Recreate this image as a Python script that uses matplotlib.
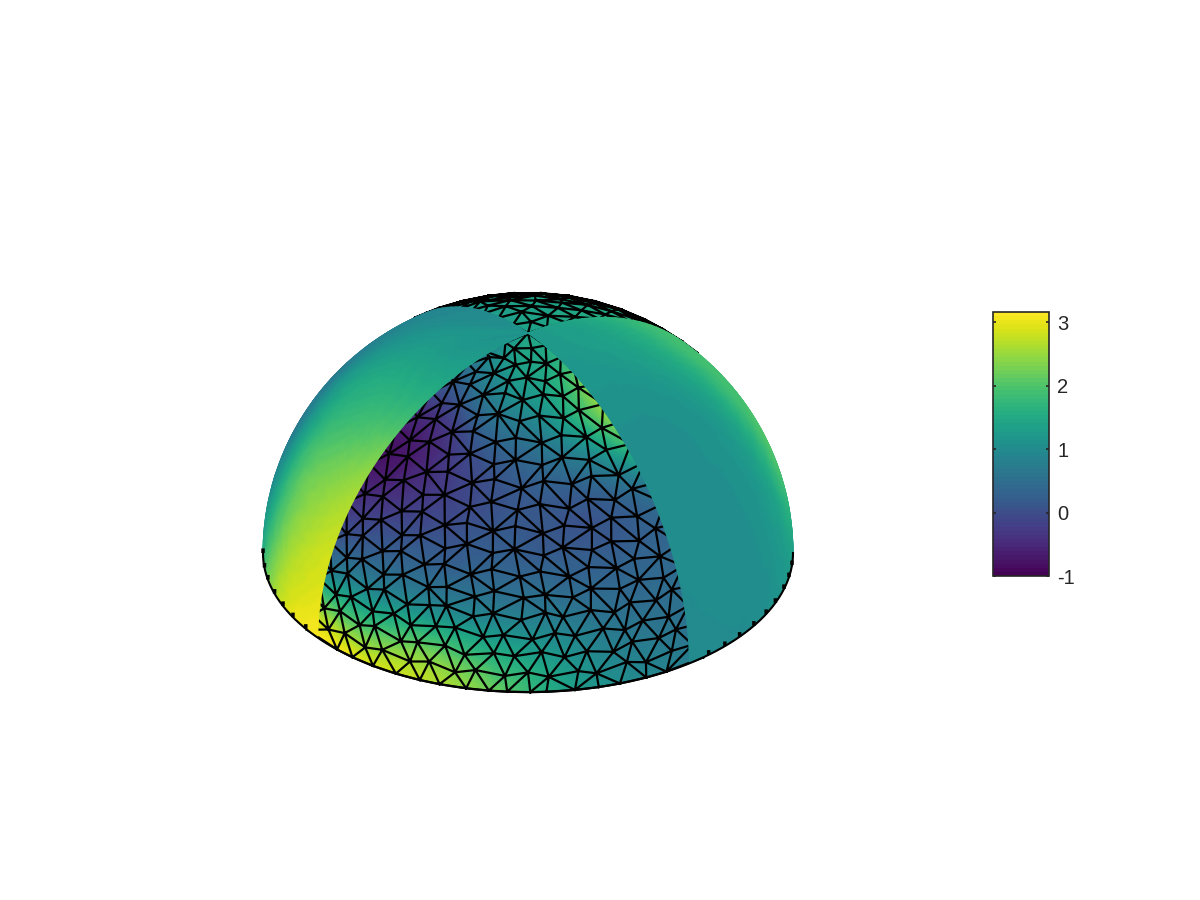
import numpy as np
import matplotlib
matplotlib.use('Agg')
import matplotlib.pyplot as plt
import matplotlib.tri as mtri
from matplotlib.cm import ScalarMappable
from matplotlib.colors import Normalize

plt.rcParams['font.family'] = ['Liberation Sans', 'DejaVu Sans']
plt.rcParams['axes.unicode_minus'] = False

# colour values, rows = latitude, columns = angle inside the patch
front_angle = [0, 15, 30, 45, 60, 75, 90]
front_rows = [0, 8, 16, 30, 45, 60, 75, 90]
front_vals = [
    [3.10, 2.95, 2.70, 2.20, 1.40, 1.00, 0.80],
    [2.40, 2.10, 2.20, 1.70, 1.20, 0.80, 0.60],
    [0.90, 1.10, 1.20, 1.00, 0.80, 0.55, 0.50],
    [-0.20, 0.10, 0.20, 0.30, 0.25, 0.25, 0.35],
    [-0.80, -0.50, -0.15, 0.10, 0.20, 0.35, 0.95],
    [-0.30, -0.20, 0.25, 0.60, 0.90, 1.50, 2.40],
    [0.60, 0.90, 1.10, 1.30, 1.40, 1.60, 1.90],
    [1.40, 1.40, 1.40, 1.40, 1.40, 1.40, 1.40],
]

left_angle = [0, 15, 30, 45, 60, 75, 90]
left_rows = [0, 15, 30, 45, 60, 75, 90]
left_vals = [
    [3.10, 2.85, 2.00, 1.20, 1.00, 1.00, 1.00],
    [2.90, 2.55, 1.70, 1.00, 0.80, 0.80, 0.80],
    [2.70, 2.35, 1.80, 1.00, 0.70, 0.70, 0.70],
    [2.30, 2.00, 1.70, 1.30, 0.90, 0.80, 0.80],
    [1.70, 1.60, 1.50, 1.30, 1.10, 0.95, 0.90],
    [1.30, 1.25, 1.20, 1.20, 1.10, 1.00, 1.00],
    [1.15, 1.15, 1.15, 1.15, 1.15, 1.15, 1.15],
]

right_angle = [0, 15, 30, 45, 60, 75, 90]
right_rows = [0, 15, 30, 45, 60, 75, 90]
right_vals = [
    [1.00, 1.00, 1.10, 1.25, 1.30, 1.30, 1.30],
    [1.00, 1.05, 1.10, 1.45, 1.90, 1.90, 1.90],
    [1.05, 1.05, 1.10, 1.40, 1.90, 1.90, 1.90],
    [1.05, 1.05, 1.10, 1.30, 1.70, 1.90, 1.90],
    [1.10, 1.10, 1.15, 1.30, 1.50, 1.70, 1.80],
    [1.20, 1.20, 1.25, 1.30, 1.35, 1.40, 1.50],
    [1.25, 1.25, 1.25, 1.25, 1.25, 1.25, 1.25],
]

back_angle = [0, 30, 60, 90]
back_rows = [40, 60, 75, 90]
back_vals = [
    [1.50, 1.45, 1.35, 1.25],
    [1.55, 1.45, 1.35, 1.25],
    [1.50, 1.40, 1.35, 1.30],
    [1.35, 1.35, 1.35, 1.35],
]

# mesh nodes (angle inside patch, latitude) estimated row by row,
# the outer ones run under the smooth patches
front_nodes = [
    (-4, 0), (6.4, 0), (11, 0), (16.7, 0), (22.6, 0), (28.4, 0), (33, 0), (39, 0), (44, 0), (48, 0), (53, 0), (56.5, 0), (62.7, 0), (68, 0), (72.8, 0), (79, 0), (84, 0), (94, 0),
    (-2, 4.8), (3.5, 3.8), (8.5, 5.1), (14.5, 3.9), (19, 4.9), (26, 4.1), (30.5, 5.2), (36.5, 3.7), (41, 4.9), (47.5, 4), (52.5, 5), (57, 3.8), (63.5, 4.7), (67.5, 3.6), (74.5, 5.1), (79, 3.9), (85.5, 4.8), (91, 4.4),
    (-4, 9.5), (1.5, 8.2), (6.5, 9.7), (12.5, 8.7), (16.5, 9.9), (23.5, 8.4), (27.5, 9.2), (34, 9.8), (38.5, 8.3), (45, 9.4), (49.5, 8.9), (55.5, 9.9), (60.5, 8.4), (65.5, 9.3), (71.5, 8.2), (76, 9.7), (82.5, 8.9), (87, 9.6), (93, 8.8),
    (-2, 14), (4.5, 12.9), (9, 14.2), (15.5, 13.1), (21, 14.3), (25.5, 12.8), (31.5, 13.9), (36, 14.4), (42.5, 13), (47, 13.8), (53.5, 12.9), (58.5, 14.2), (63, 13.2), (69.5, 14.1), (74.5, 12.8), (79, 14), (85.5, 13.1), (91, 13.9),
    (-4, 18.5), (1.5, 17.4), (6.5, 18.8), (13, 17.6), (17.5, 18.9), (24, 17.3), (29.5, 18.4), (33.5, 19), (40, 17.5), (44.5, 18.6), (51, 17.4), (56.5, 19), (60.5, 17.8), (67, 18.7), (72.5, 17.3), (76.5, 18.8), (83, 17.7), (87.5, 18.9), (93, 18),
    (-2, 23), (5, 22), (9.5, 23.4), (16.5, 22.1), (21.5, 23.5), (28.5, 22.3), (33, 23.2), (40, 22), (44.5, 23.6), (51.5, 22.4), (56.5, 23), (63, 22), (67.5, 23.5), (74.5, 22.3), (79.5, 23.3), (86, 22.1), (92, 23),
    (-4, 28), (2.5, 26.7), (7.5, 28.2), (14.5, 26.9), (19.5, 28.4), (26.5, 27), (31.5, 28.1), (38.5, 26.8), (43.5, 28.4), (50.5, 27.1), (55.5, 28.2), (62.5, 26.7), (67.5, 28.3), (74.5, 27), (79.5, 28.1), (86.5, 26.9), (93, 28),
    (-2, 32.8), (5.5, 31.6), (11, 33.2), (18.5, 31.8), (23.5, 33), (31, 31.5), (36.5, 33.3), (43.5, 32), (49, 33.1), (56.5, 31.7), (61.5, 33.2), (69, 31.9), (74.5, 33), (82, 31.6), (87.5, 33.1), (93, 32.5),
    (-4, 37.5), (2.5, 36.5), (8.5, 38), (16, 36.7), (22, 38.1), (29.5, 36.5), (35.5, 37.9), (43, 36.8), (49, 38.2), (56.5, 36.6), (62.5, 38), (70, 36.7), (76, 38.1), (83.5, 36.9), (93, 37.5),
    (-2, 42.6), (6.5, 41.5), (12.5, 43.2), (20.5, 41.7), (27, 43), (35.5, 41.5), (41.5, 43.2), (49.5, 41.8), (56, 43.1), (64.5, 41.6), (70.5, 43.2), (78.5, 41.7), (85, 43), (92, 42.5),
    (-4, 47.5), (2.5, 46.8), (9.5, 48.3), (18.5, 46.7), (25.5, 48.2), (34.5, 46.9), (41.5, 48.4), (50.5, 46.7), (57.5, 48.3), (66.5, 47), (73.5, 48.1), (82.5, 46.8), (93, 47.5),
    (-2, 52.5), (6.5, 51.7), (14, 53.3), (23.5, 52), (31, 53.4), (40.5, 51.8), (48, 53.2), (57.5, 52), (65, 53.4), (74.5, 51.8), (82, 53.1), (92, 52.5),
    (-4, 58), (2.5, 57), (10.5, 58.6), (20.5, 57.2), (29, 58.7), (39.5, 57.1), (47.5, 58.5), (58, 57.3), (66.5, 58.7), (76.5, 57.2), (84.5, 58.3), (93, 58),
    (-2, 63.5), (7.5, 62.6), (16.5, 64), (28, 62.8), (37.5, 64.1), (48.5, 62.7), (58, 64.1), (69.5, 62.8), (78.5, 64), (92, 63.5),
    (-4, 69), (2.5, 68.4), (13.5, 69.6), (25.5, 68.2), (38, 69.8), (49.5, 68.3), (62, 69.7), (73.5, 68.4), (85.5, 69.6), (93, 69),
    (-2, 74), (9.5, 73.2), (23.5, 74.6), (37.5, 73.3), (51.5, 74.7), (65.5, 73.3), (79.5, 74.5), (92, 74),
    (-4, 79), (6, 78.3), (22, 79.7), (39, 78.4), (56, 79.6), (73, 78.5), (93, 79),
    (-2, 84), (25, 83.5), (60, 84.2), (92, 84),
    (45, 90),
]

back_nodes = [
    (-4, 40), (3, 40.6), (10, 39.4), (17, 40.8), (24, 39.5), (31, 40.4), (38, 39.3), (45, 40.7), (52, 39.6), (59, 40.5), (66, 39.4), (73, 40.7), (80, 39.5), (87, 40.6), (94, 40),
    (-2, 44.4), (6.5, 45), (14.5, 44), (22.5, 45.3), (30.5, 44), (38.5, 45.1), (46.5, 43.9), (54.5, 45.2), (62.5, 44.1), (70.5, 45), (78.5, 43.9), (86.5, 45.2), (92, 44.4),
    (-4, 48.8), (2, 49.5), (11, 48.3), (20, 49.6), (29, 48.4), (38, 49.4), (47, 48.2), (56, 49.5), (65, 48.4), (74, 49.6), (83, 48.2), (93, 48.8),
    (-2, 53.2), (7, 54), (17, 52.8), (27, 54), (37, 52.7), (47, 53.8), (57, 52.6), (67, 54), (77, 52.8), (87, 53.9), (92, 53.2),
    (-4, 57.6), (3, 58.3), (14, 57.1), (25, 58.4), (36, 57.2), (47, 58.2), (58, 57), (69, 58.3), (80, 57.2), (93, 57.6),
    (-2, 62), (9, 62.8), (21, 61.6), (33, 62.8), (45, 61.5), (57, 62.7), (69, 61.6), (81, 62.8), (92, 62),
    (-4, 66.4), (4, 67.1), (19, 66), (34, 67.2), (49, 66), (64, 67), (79, 66.1), (93, 66.4),
    (-2, 70.8), (13, 71.5), (30, 70.4), (47, 71.6), (64, 70.4), (81, 71.5), (92, 70.8),
    (-4, 75.2), (5, 76), (27, 74.8), (49, 76), (71, 74.8), (93, 75.2),
    (-2, 80), (25, 80.5), (60, 79.6), (92, 80),
    (-3, 85), (45, 85), (93, 85),
    (45, 90),
]

# small bumps on the rim, longitude from the viewer
rim_bumps = [-90, -84, -79, -73, -67.6, -62.5, -57, 43, 48, 53, 58.5, 64, 69, 75, 80, 85]

cbar_ticks = [-1, 0, 1, 2, 3]
cbar_min = -1
cbar_max = 3.16

# patch start longitude and direction, seen from the viewer
FRONT = (-52.5, 1)
LEFT = (-52.5, -1)
RIGHT = (37.5, 1)
BACK = (127.5, 1)

# fixed view of the dome
VIEW_Y = 0.525
VIEW_Z = 0.83


def to_view(lon, lat):
    d = np.radians(lon)
    p = np.radians(lat)
    u = np.cos(p) * np.sin(d)
    v = VIEW_Z * np.sin(p) - VIEW_Y * np.cos(p) * np.cos(d)
    return u, v


def facing(lon, lat):
    d = np.radians(lon)
    p = np.radians(lat)
    return VIEW_Z * np.cos(p) * np.cos(d) + VIEW_Y * np.sin(p) >= 0


fig = plt.figure(figsize=(12, 9), dpi=100)
ax = fig.add_axes([0, 0, 1, 1])
ax.set_xlim(-528 / 265, 672 / 265)
ax.set_ylim((553 - 900) / 265, 553 / 265)
ax.axis('off')

cmap = plt.get_cmap('viridis', 64)


def draw_patch(patch, angle, rows, vals):
    start, sign = patch
    a, b = np.meshgrid(angle, rows)
    base = mtri.Triangulation(a.ravel().astype(float), b.ravel().astype(float))
    fine, fine_vals = mtri.UniformTriRefiner(base).refine_field(np.array(vals, dtype=float).ravel(), subdiv=3)
    lon = start + sign * fine.x
    u, v = to_view(lon, fine.y)
    tris = fine.triangles
    keep = facing(lon, fine.y)[tris].any(axis=1)
    ax.tripcolor(mtri.Triangulation(u, v, tris[keep]), fine_vals, shading='gouraud',
                 cmap=cmap, vmin=cbar_min, vmax=cbar_max)


def draw_mesh(patch, nodes):
    start, sign = patch
    nodes = np.array(nodes, dtype=float)
    # stereographic map from the pole keeps the triangles close to equilateral
    r = np.tan(np.radians(90 - nodes[:, 1]) / 2)
    a = np.radians(nodes[:, 0])
    flat = mtri.Triangulation(r * np.cos(a), r * np.sin(a))
    # long slivers along the hull would show up as chords across the patch
    slivers = mtri.TriAnalyzer(flat).get_flat_tri_mask(0.1)
    lon = start + sign * nodes[:, 0]
    u, v = to_view(lon, nodes[:, 1])
    keep = facing(lon, nodes[:, 1])[flat.triangles].any(axis=1) & ~slivers
    ax.triplot(mtri.Triangulation(u, v, flat.triangles[keep]), color='black', lw=1.6, marker='')


# smooth patches go on top so the meshes have no border along the patch edges
draw_patch(BACK, back_angle, back_rows, back_vals)
draw_mesh(BACK, back_nodes)
draw_patch(FRONT, front_angle, front_rows, front_vals)
draw_mesh(FRONT, front_nodes)
draw_patch(LEFT, left_angle, left_rows, left_vals)
draw_patch(RIGHT, right_angle, right_rows, right_vals)

# rim of the dome
rim_lon = np.linspace(-90, 90, 361)
rim_u, rim_v = to_view(rim_lon, np.zeros_like(rim_lon))
ax.plot(rim_u, rim_v, color='black', lw=1.5)
for lon in rim_bumps:
    bu, bv = to_view(np.array([lon, lon]), np.array([0, 1.2]))
    ax.plot(bu, bv, color='black', lw=2.5, solid_capstyle='butt')

# colorbar
cax = fig.add_axes([993 / 1200, 1 - 576 / 900, 56 / 1200, 264 / 900])
sm = ScalarMappable(norm=Normalize(cbar_min, cbar_max), cmap=cmap)
cb = fig.colorbar(sm, cax=cax)
cb.set_ticks(cbar_ticks)
cb.outline.set_linewidth(1.2)
cb.outline.set_edgecolor('#262626')
cax.tick_params(axis='y', direction='in', left=True, right=True, length=2.5, width=1.2,
                color='#262626', labelcolor='#262626', labelsize=14.5, pad=6)

fig.savefig('out.png', dpi=100)
plt.close(fig)
